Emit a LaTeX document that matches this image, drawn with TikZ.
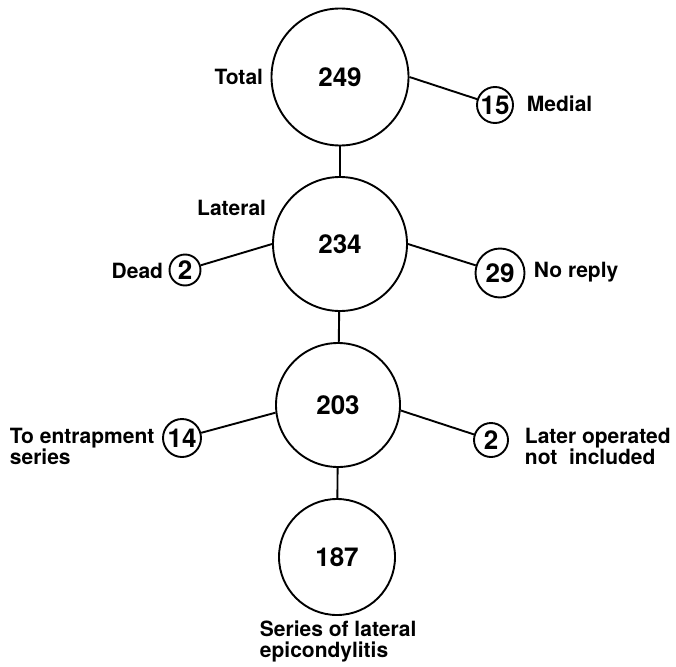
\documentclass[tikz,border=0pt]{standalone}
\usepackage{fontspec}
\setmainfont{TeX Gyre Heros}
\newcommand{\numfont}{\fontsize{26}{26}\selectfont\bfseries}
\newcommand{\lblfont}{\fontsize{21}{21}\selectfont\bfseries}
\begin{document}
\begin{tikzpicture}[x=1pt, y=-1pt, line width=1.9pt,
  bigcirc/.style={circle, draw, inner sep=0pt, font=\numfont},
  smallcirc/.style={circle, draw, inner sep=0pt, font=\numfont},
  lbl/.style={inner sep=0pt, font=\lblfont, align=left}]
\useasboundingbox (0,0) rectangle (676,666);
\node[bigcirc, minimum size=137pt] (n249) at (340,77){249};
\node[lbl, anchor=east] (ltotal) at (264,77){Total};
\node[smallcirc, minimum size=36pt] (n15) at (495,105){15};
\node[lbl, anchor=west] (lmedial) at (526,104){Medial};
\draw[](n249.east) -- (n15);
\node[bigcirc, minimum size=134pt] (n234) at (340,244){234};
\node[lbl, anchor=east] (llateral) at (267,208){Lateral};
\draw[](n249) -- (n234);
\node[smallcirc, minimum size=31pt] (ndead) at (185,270){2};
\node[lbl, anchor=east] (ldead) at (164,271){Dead};
\draw[](ndead) -- (n234.west);
\node[smallcirc, minimum size=49pt] (n29) at (500,273){29};
\node[lbl, anchor=west] (lreply) at (533,272){No reply};
\draw[](n234.east) -- (n29);
\node[bigcirc, minimum size=124pt] (n203) at (338,405){203};
\draw[](n234) -- (n203);
\node[smallcirc, minimum size=38pt] (n14) at (182,438){14};
\node[lbl, anchor=west] (lentrap) at (9,446){To entrapment\\series};
\draw[](n14) -- (n203.187);
\node[smallcirc, minimum size=34pt] (nlater) at (491,440){2};
\node[lbl, anchor=west] (llater) at (524,446){Later operated\\not~ included};
\draw[](n203.-5) -- (nlater);
\node[bigcirc, minimum size=116pt] (n187) at (337,557){187};
\draw[](n203) -- (n187);
\node[lbl, anchor=west] (lseries) at (259,641){Series of lateral\\epicondylitis};
\end{tikzpicture}
\end{document}
